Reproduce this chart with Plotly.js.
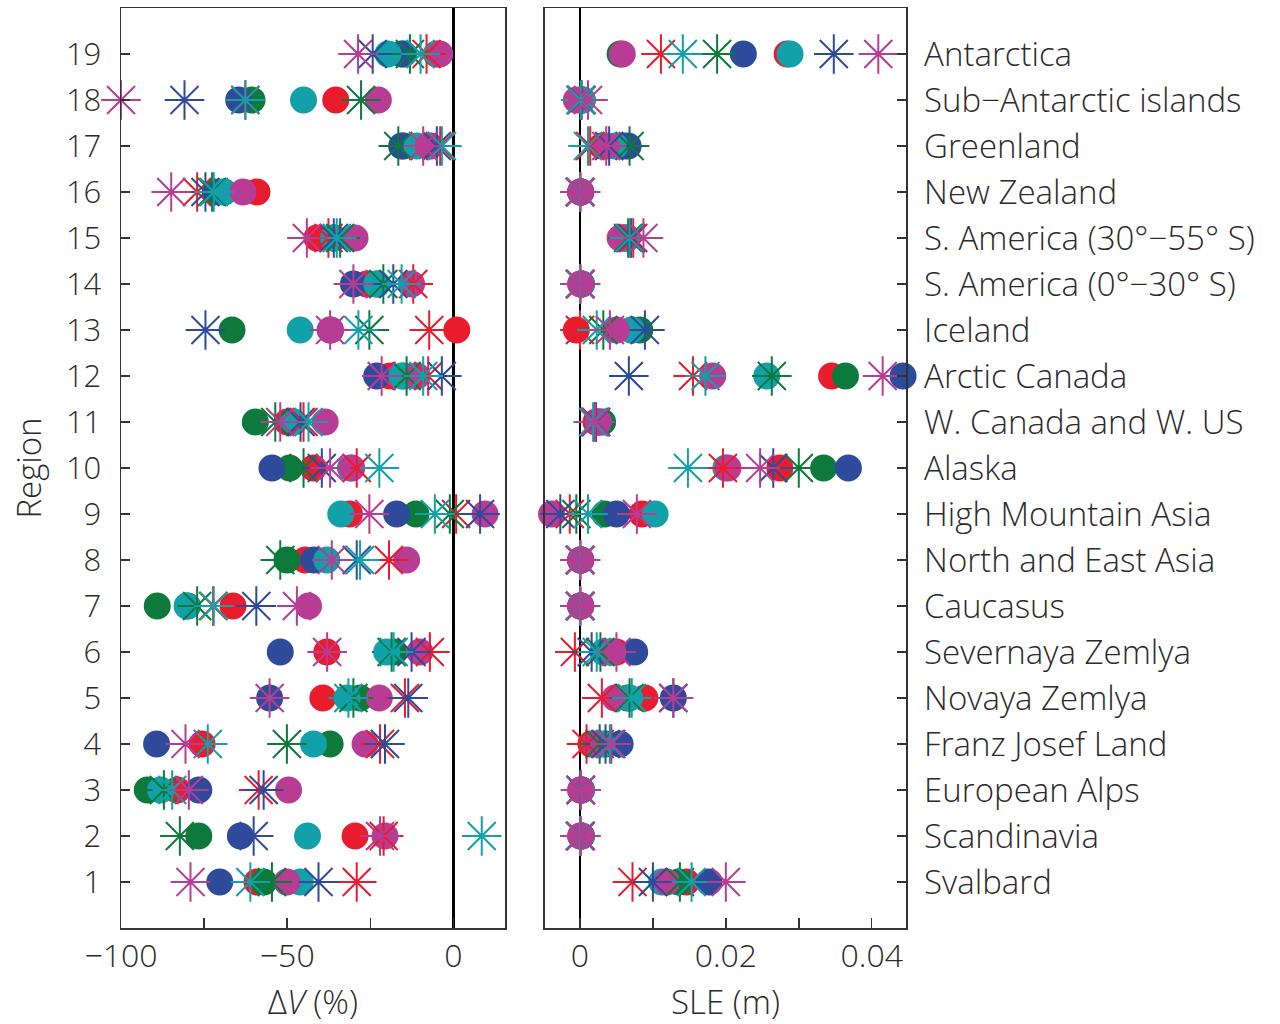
<!DOCTYPE html>
<html>
<head>
<meta charset="utf-8">
<script src="https://cdn.plot.ly/plotly-3.0.1.min.js"></script>
<style>html,body{margin:0;padding:0;background:#fff;}#chart{width:1280px;height:1024px;}</style>
</head>
<body>
<div id="chart"></div>
<script>
// Region numbers and names
const regionNums = [1,2,3,4,5,6,7,8,9,10,11,12,13,14,15,16,17,18,19];
const regionNames = ["Svalbard","Scandinavia","European Alps","Franz Josef Land","Novaya Zemlya",
  "Severnaya Zemlya","Caucasus","North and East Asia","High Mountain Asia","Alaska",
  "W. Canada and W. US","Arctic Canada","Iceland","S. America (0°−30° S)","S. America (30°−55° S)",
  "New Zealand","Greenland","Sub−Antarctic islands","Antarctica"];

// Volume change (%) per region 1..19 — circles
const dvRedCircle     = [-59.1,-29.6,-83.1,-75.6,-39.3,-38.1,-66.3,-44.6,-31.3,-42.1,-50.0,-19.1,1.0,-26.1,-41.1,-59.1,-7.0,-35.4,-5.1];
const dvGreenCircle   = [-57.0,-76.6,-92.1,-37.1,-28.1,-18.0,-89.1,-50.1,-11.3,-49.3,-59.6,-15.0,-66.6,-23.0,-36.0,-71.6,-15.0,-60.6,-15.0];
const dvBlueCircle    = [-70.3,-64.1,-76.6,-89.3,-55.3,-52.1,-80.0,-42.0,-17.1,-54.6,-48.5,-23.1,-37.0,-30.1,-36.0,-69.0,-15.6,-64.6,-15.6];
const dvTealCircle    = [-46.1,-43.9,-88.1,-42.1,-32.0,-20.1,-80.1,-38.1,-33.9,-31.0,-48.0,-15.6,-46.1,-23.1,-36.1,-69.1,-11.0,-45.1,-19.7];
const dvMagentaCircle = [-50.1,-20.6,-49.6,-26.6,-22.3,-10.1,-43.6,-14.1,9.5,-30.6,-38.6,-11.0,-37.1,-12.6,-29.6,-63.3,-7.6,-22.6,-4.1];
// Volume change (%) — asterisks
const dvRedStar     = [-29.1,-21.0,-58.6,-22.1,-14.6,-7.1,-72.3,-19.4,0.8,-29.1,-45.1,-7.6,-7.3,-12.1,-37.6,-77.1,-4.0,-62.6,-8.1];
const dvGreenStar   = [-54.6,-82.3,-87.1,-50.1,-30.1,-18.6,-77.1,-52.1,-1.1,-45.1,-53.6,-14.1,-25.3,-21.1,-34.1,-72.6,-16.6,-27.8,-13.1];
const dvBlueStar    = [-40.6,-60.1,-57.1,-20.6,-13.6,-12.6,-59.3,-29.1,8.0,-39.6,-46.0,-3.5,-74.6,-18.1,-36.0,-74.6,-5.0,-80.9,-24.3];
const dvTealStar    = [-61.1,8.5,-84.6,-73.9,-31.6,-18.0,-72.1,-28.1,-5.6,-22.3,-43.6,-9.1,-28.6,-15.6,-35.1,-72.1,-3.5,-62.6,-9.9];
const dvMagentaStar = [-79.1,-22.1,-79.6,-80.6,-55.3,-38.0,-47.1,-36.6,-25.3,-37.1,-52.1,-21.6,-37.1,-30.1,-44.1,-84.9,-9.1,-100.0,-28.7];

// Sea-level equivalent (m) — circles
const sleRedCircle     = [0.0146,0.0001,0.0001,0.0015,0.0089,0.0050,0.0001,0.0001,0.0085,0.0274,0.0022,0.0345,-0.0005,0.0001,0.0060,0.0001,0.0030,0.0002,0.0284];
const sleGreenCircle   = [0.0135,0.0002,0.0002,0.0035,0.0065,0.0040,0.0001,0.0001,0.0034,0.0334,0.0031,0.0364,0.0082,0.0002,0.0065,0.0001,0.0060,0.0003,0.0055];
const sleBlueCircle    = [0.0177,0.0002,0.0002,0.0055,0.0128,0.0075,0.0001,0.0001,0.0050,0.0368,0.0025,0.0443,0.0071,0.0002,0.0060,0.0001,0.0066,0.0003,0.0224];
const sleTealCircle    = [0.0112,0.0002,0.0002,0.0030,0.0068,0.0032,0.0001,0.0001,0.0103,0.0200,0.0025,0.0256,0.0071,0.0002,0.0065,0.0001,0.0048,0.0003,0.0288];
const sleMagentaCircle = [0.0119,0.0001,0.0001,0.0020,0.0048,0.0045,0.0001,0.0001,-0.0039,0.0203,0.0025,0.0182,0.0050,0.0001,0.0055,0.0001,0.0036,-0.0005,0.0058];
// Sea-level equivalent (m) — asterisks
const sleRedStar     = [0.0072,0.0000,0.0001,0.0009,0.0030,-0.0007,0.0000,0.0000,-0.0014,0.0196,0.0020,0.0155,0.0000,0.0000,0.0073,0.0000,0.0014,0.0002,0.0111];
const sleGreenStar   = [0.0137,0.0001,0.0001,0.0027,0.0068,0.0028,0.0000,0.0000,-0.0005,0.0300,0.0022,0.0263,0.0032,0.0000,0.0066,0.0000,0.0068,0.0001,0.0188];
const sleBlueStar    = [0.0100,0.0000,0.0001,0.0035,0.0128,0.0016,0.0000,0.0000,-0.0027,0.0265,0.0022,0.0067,0.0089,0.0000,0.0070,0.0000,0.0040,0.0002,0.0348];
const sleTealStar    = [0.0153,0.0000,0.0001,0.0041,0.0071,0.0023,0.0000,0.0000,0.0011,0.0148,0.0018,0.0172,0.0023,0.0000,0.0068,0.0000,0.0011,0.0001,0.0141];
const sleMagentaStar = [0.0200,0.0001,0.0001,0.0043,0.0128,0.0050,0.0001,0.0001,0.0078,0.0247,0.0021,0.0415,0.0041,0.0001,0.0087,0.0001,0.0036,0.0011,0.0409];

// Tick labels
const dvTickVals = [-100,-75,-50,-25,0];
const dvTickText = ["−100","","−50","","0"];
const sleTickVals = [0,0.01,0.02,0.03,0.04];
const sleTickText = ["0","","0.02","","0.04"];

const COLORS = {red:"#e81c2c", green:"#0d7a3c", blue:"#2e4a9b", teal:"#12a0a9", magenta:"#b93c94"};

const circleSeries = [
  ["red", dvRedCircle, sleRedCircle],
  ["green", dvGreenCircle, sleGreenCircle],
  ["blue", dvBlueCircle, sleBlueCircle],
  ["teal", dvTealCircle, sleTealCircle],
  ["magenta", dvMagentaCircle, sleMagentaCircle]
];
const starSeries = [
  ["red", dvRedStar, sleRedStar],
  ["green", dvGreenStar, sleGreenStar],
  ["blue", dvBlueStar, sleBlueStar],
  ["teal", dvTealStar, sleTealStar],
  ["magenta", dvMagentaStar, sleMagentaStar]
];

const traces = [];
function addCircle(c, xs, xa, ya) {
  traces.push({type:"scatter", mode:"markers", x:xs, y:regionNums, xaxis:xa, yaxis:ya,
    cliponaxis:false, showlegend:false, hoverinfo:"x+y",
    marker:{symbol:"circle", size:27, color:COLORS[c], line:{width:0}}});
}
function addStar(c, xs, xa, ya) {
  traces.push({type:"scatter", mode:"markers", x:xs, y:regionNums, xaxis:xa, yaxis:ya,
    cliponaxis:false, showlegend:false, hoverinfo:"x+y",
    marker:{symbol:"asterisk-open", size:33, color:COLORS[c], line:{width:2, color:COLORS[c]}}});
}
circleSeries.forEach(s => addCircle(s[0], s[1], "x", "y"));
starSeries.forEach(s => addStar(s[0], s[1], "x", "y"));
circleSeries.forEach(s => addCircle(s[0], s[2], "x2", "y2"));
starSeries.forEach(s => addStar(s[0], s[2], "x2", "y2"));

const FAM = "'Open Sans', Lato, sans-serif";
const TXT = "#2b2b2b";
const FONT = {family:FAM, size:32, color:TXT, weight:300};
const YTICK = {family:FAM, size:31, color:TXT, weight:300};
const XTICK = {family:FAM, size:32, color:TXT, weight:300};
const TITLE = {family:FAM, size:33, color:TXT, weight:300};
const NAMES = {family:FAM, size:33, color:TXT, weight:300};
const LINE = "#333333";

const layout = {
  width:1280, height:1024,
  margin:{l:121, r:374, t:8, b:96, pad:0},
  paper_bgcolor:"#ffffff", plot_bgcolor:"#ffffff",
  font:FONT,
  showlegend:false,
  xaxis:{domain:[0,0.4892], range:[-100,15.5], anchor:"y",
    tickvals:dvTickVals, ticktext:dvTickText, ticks:"inside", ticklen:10, tickwidth:1.5, tickcolor:LINE,
    ticklabelstandoff:-1, tickfont:XTICK,
    showline:true, mirror:true, linecolor:LINE, linewidth:1.5,
    showgrid:false, zeroline:true, zerolinecolor:"#000000", zerolinewidth:2.5,
    layer:"above traces",
    title:{text:"Δ<i>V</i> (%)", font:TITLE, standoff:18}},
  yaxis:{domain:[0,1], range:[0,20], anchor:"x",
    tickvals:regionNums, ticks:"inside", ticklen:9, tickwidth:1.5, tickcolor:LINE,
    ticklabelstandoff:12, tickfont:YTICK,
    showline:true, mirror:true, linecolor:LINE, linewidth:1.5,
    showgrid:false, zeroline:false,
    title:{text:"Region", font:TITLE, standoff:14}},
  xaxis2:{domain:[0.5401,1], range:[-0.0048,0.0447], anchor:"y2",
    tickvals:sleTickVals, ticktext:sleTickText, ticks:"inside", ticklen:10, tickwidth:1.5, tickcolor:LINE,
    ticklabelstandoff:-1, tickfont:XTICK,
    showline:true, mirror:true, linecolor:LINE, linewidth:1.5,
    showgrid:false, zeroline:true, zerolinecolor:"#000000", zerolinewidth:2.5,
    layer:"above traces",
    title:{text:"SLE (m)", font:TITLE, standoff:20}},
  yaxis2:{domain:[0,1], range:[0,20], anchor:"x2", side:"right",
    tickvals:regionNums, ticktext:regionNames, ticks:"inside", ticklen:9, tickwidth:1.5, tickcolor:LINE,
    ticklabelstandoff:10, tickfont:NAMES,
    showline:true, mirror:true, linecolor:LINE, linewidth:1.5,
    showgrid:false, zeroline:false}
};

Plotly.newPlot("chart", traces, layout, {staticPlot:true, displayModeBar:false});
</script>
</body>
</html>
